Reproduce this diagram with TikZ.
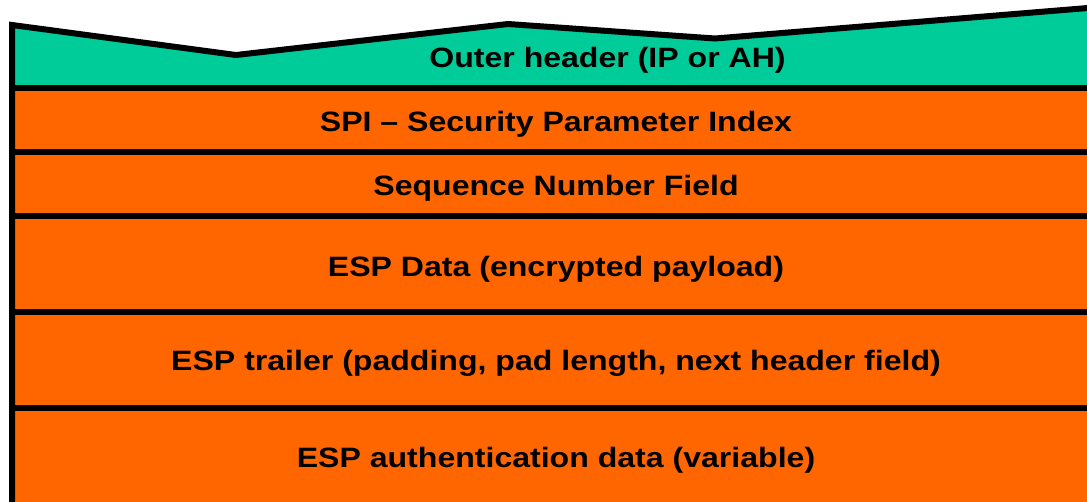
\documentclass[tikz,border=0pt]{standalone}
\usepackage{graphicx}
\usepackage{fontspec}
\setmainfont{Liberation Sans}
\definecolor{hdrteal}{RGB}{0,204,153}
\definecolor{espor}{RGB}{255,102,0}
\begin{document}
\begin{tikzpicture}[x=1pt,y=-1pt,
  lbl/.style={font=\fontsize{28}{28}\selectfont\bfseries, inner sep=0pt, anchor=base},
  rule/.style={line width=6pt, line join=miter, black}]
\useasboundingbox (0,0) rectangle (1087,501);
\clip (0,0) rectangle (1087,501);
\fill[hdrteal] (12,25) -- (236,55) -- (508,24) -- (715,38.5) -- (1100,7) -- (1100,88) -- (12,88) -- cycle;
\fill[espor] (12,88) rectangle (1100,510);
\draw[rule] (12,510) -- (12,25) -- (236,55) -- (508,24) -- (715,38.5) -- (1100,7);
\foreach \y in {88,152,216,312,408} \draw[rule] (12,\y) -- (1100,\y);
\node[lbl] (outer) at (607.5,67) {\scalebox{1.145}[1]{Outer header (IP or AH)}};
\node[lbl] (spi) at (556,131) {\scalebox{1.145}[1]{SPI – Security Parameter Index}};
\node[lbl] (seq) at (556,195) {\scalebox{1.145}[1]{Sequence Number Field}};
\node[lbl] (data) at (556,276) {\scalebox{1.145}[1]{ESP Data (encrypted payload)}};
\node[lbl] (trail) at (556,370) {\scalebox{1.145}[1]{ESP trailer (padding, pad length, next header field)}};
\node[lbl] (auth) at (556,467) {\scalebox{1.145}[1]{ESP authentication data (variable)}};
\end{tikzpicture}
\end{document}
